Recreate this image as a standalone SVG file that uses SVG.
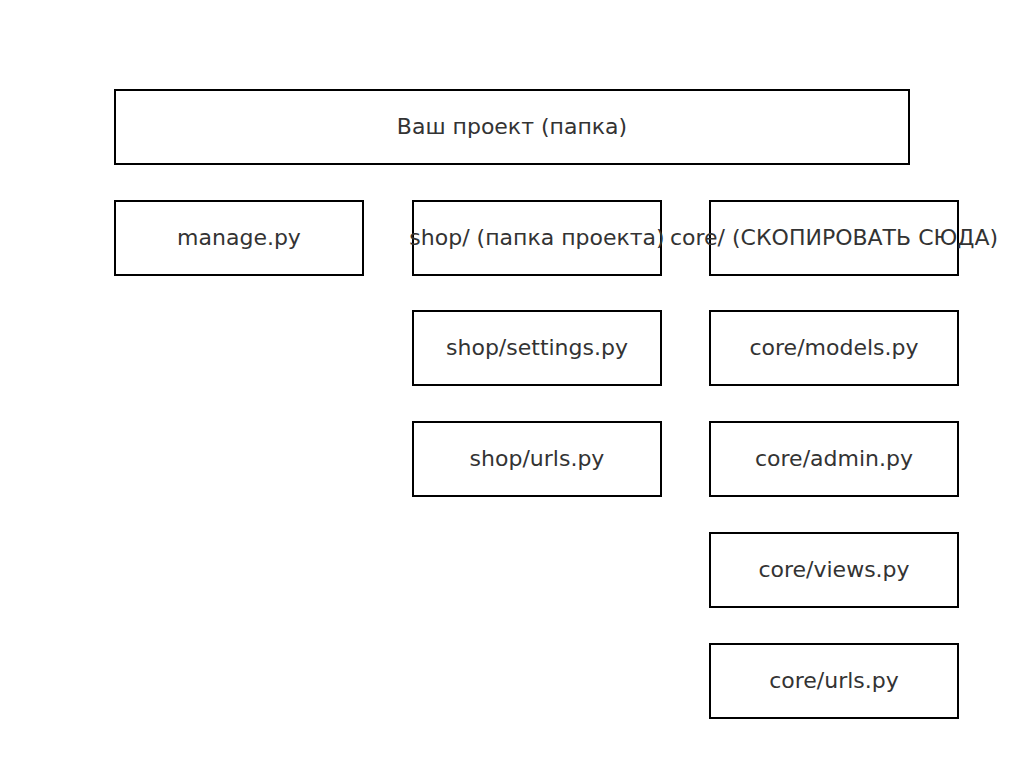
<svg xmlns="http://www.w3.org/2000/svg" width="1023" height="771" viewBox="0 0 1023 771">
<style>
rect.n{fill:#fff;stroke:#000;stroke-width:2}
text{font-family:"DejaVu Sans",sans-serif;font-size:22px;fill:#333;text-anchor:middle}
</style>
<rect width="1023" height="771" fill="#fff"/>
<g id="connectors"/>
<g id="root"><rect class="n" x="115" y="90" width="794" height="74"/><text x="512" y="134">Ваш проект (папка)</text></g>
<g id="manage"><rect class="n" x="115" y="201" width="248" height="74"/><text x="239" y="245">manage.py</text></g>
<g id="shop"><rect class="n" x="413" y="201" width="248" height="74"/><text x="537" y="245">shop/ (папка проекта)</text></g>
<g id="core"><rect class="n" x="710" y="201" width="248" height="74"/><text x="834" y="245">core/ (СКОПИРОВАТЬ СЮДА)</text></g>
<g id="shop-settings"><rect class="n" x="413" y="311" width="248" height="74"/><text x="537" y="355">shop/settings.py</text></g>
<g id="core-models"><rect class="n" x="710" y="311" width="248" height="74"/><text x="834" y="355">core/models.py</text></g>
<g id="shop-urls"><rect class="n" x="413" y="422" width="248" height="74"/><text x="537" y="466">shop/urls.py</text></g>
<g id="core-admin"><rect class="n" x="710" y="422" width="248" height="74"/><text x="834" y="466">core/admin.py</text></g>
<g id="core-views"><rect class="n" x="710" y="533" width="248" height="74"/><text x="834" y="577">core/views.py</text></g>
<g id="core-urls"><rect class="n" x="710" y="644" width="248" height="74"/><text x="834" y="688">core/urls.py</text></g>
</svg>
